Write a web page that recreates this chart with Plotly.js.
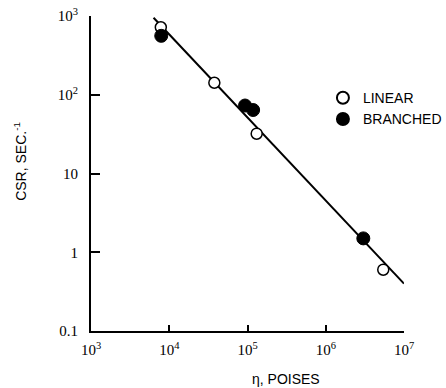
<!DOCTYPE html>
<html><head><meta charset="utf-8">
<script src="https://cdn.plot.ly/plotly-3.0.1.min.js"></script>
<style>html,body{margin:0;padding:0;background:#fff}#c{width:446px;height:388px}</style>
</head><body><div id="c"></div>
<script>
const linearX = [7800, 37700, 131000, 5430000];
const linearY = [720, 142, 32, 0.6];
const branchedX = [7900, 93000, 118000, 3020000];
const branchedY = [560, 73, 64, 1.5];
const fitX = [6300, 10000000];
const fitY = [950, 0.4];
const xTickVals = [1e3, 1e4, 1e5, 1e6, 1e7];
const xTickText = ['10<sup>3</sup>', '10<sup>4</sup>', '10<sup>5</sup>', '10<sup>6</sup>', '10<sup>7</sup>'];
const yTickVals = [0.1, 1, 10, 100, 1000];
const yTickText = ['0.1', '1', '10', '10<sup>2</sup>', '10<sup>3</sup>'];

const traces = [
  {x: fitX, y: fitY, mode: 'lines', line: {color: '#000', width: 2}, showlegend: false, hoverinfo: 'skip'},
  {x: linearX, y: linearY, mode: 'markers', name: 'LINEAR',
   marker: {symbol: 'circle', size: 11, color: '#fff', line: {color: '#000', width: 1.5}}},
  {x: branchedX, y: branchedY, mode: 'markers', name: 'BRANCHED',
   marker: {symbol: 'circle', size: 13, color: '#000', line: {color: '#000', width: 1}}}
];
const tickFont = {family: 'Liberation Serif, serif', size: 15, color: '#000'};
const titleFont = {family: 'Liberation Sans, Arial, sans-serif', size: 14, color: '#000'};
const layout = {
  width: 446, height: 388,
  margin: {l: 91, r: 42, t: 16, b: 57, autoexpand: false},
  paper_bgcolor: '#fff', plot_bgcolor: '#fff',
  showlegend: true,
  legend: {x: 0.741, y: 0.79, xanchor: 'left', yanchor: 'top', bgcolor: 'rgba(0,0,0,0)',
    font: {family: 'Liberation Sans, Arial, sans-serif', size: 14, color: '#000'},
    itemsizing: 'constant', tracegroupgap: 0},
  xaxis: {type: 'log', range: [3, 7], tickvals: xTickVals, ticktext: xTickText, automargin: false,
    showgrid: false, zeroline: false, showline: true, linecolor: '#000', linewidth: 2,
    ticks: 'inside', ticklen: 6, tickwidth: 2, tickcolor: '#000', tickfont: tickFont, ticklabelstandoff: 4},
  yaxis: {type: 'log', range: [-1, 3], tickvals: yTickVals, ticktext: yTickText, automargin: false,
    showgrid: false, zeroline: false, showline: true, linecolor: '#000', linewidth: 2,
    ticks: 'inside', ticklen: 9, tickwidth: 2, tickcolor: '#000', tickfont: tickFont, ticklabelstandoff: 8},
  annotations: [
    {text: 'η, POISES', xref: 'paper', yref: 'paper', x: 0.623, y: -0.152, xanchor: 'center', yanchor: 'middle',
     showarrow: false, font: titleFont},
    {text: 'CSR, SEC.<sup>-1</sup>', xref: 'paper', yref: 'paper', x: -0.227, y: 0.54, xanchor: 'center', yanchor: 'middle',
     textangle: -90, showarrow: false, font: {family: 'Liberation Sans, Arial, sans-serif', size: 14, color: '#000'}}
  ]
};
Plotly.newPlot('c', traces, layout, {staticPlot: true, displayModeBar: false});
</script></body></html>
